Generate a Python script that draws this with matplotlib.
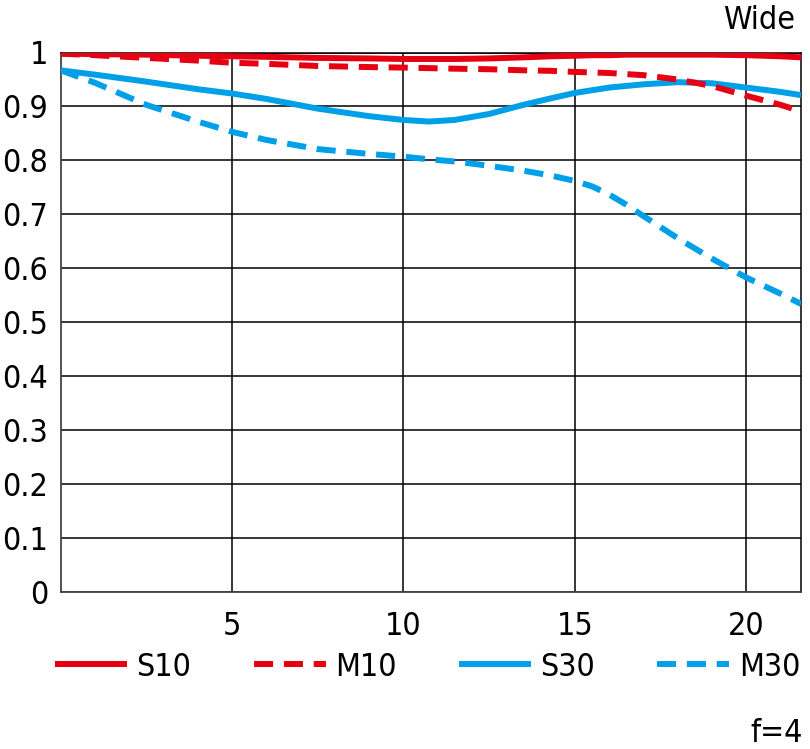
import matplotlib
matplotlib.use("Agg")
import matplotlib.pyplot as plt
from matplotlib.lines import Line2D

plt.rcParams['font.family'] = ['Liberation Sans Narrow', 'DejaVu Sans']
plt.rcParams['font.stretch'] = 'condensed'

image_height = [0, 1, 2.5, 4, 5, 6, 7.5, 9, 10, 10.75, 11.5, 12.5, 13.5, 14.3, 15, 15.5, 16, 16.5, 17, 18, 19, 20, 21, 21.6]
s10 = [0.998, 0.997, 0.996, 0.994, 0.993, 0.992, 0.990, 0.989, 0.988, 0.988, 0.988, 0.989, 0.991, 0.993, 0.994, 0.995, 0.995, 0.996, 0.996, 0.996, 0.996, 0.995, 0.993, 0.991]
m10 = [0.998, 0.995, 0.990, 0.985, 0.981, 0.979, 0.975, 0.973, 0.972, 0.971, 0.970, 0.969, 0.967, 0.966, 0.964, 0.963, 0.962, 0.960, 0.958, 0.950, 0.938, 0.920, 0.903, 0.891]
s30 = [0.967, 0.959, 0.946, 0.932, 0.924, 0.914, 0.896, 0.882, 0.875, 0.872, 0.875, 0.886, 0.903, 0.915, 0.925, 0.930, 0.935, 0.938, 0.941, 0.945, 0.943, 0.935, 0.927, 0.921]
m30 = [0.967, 0.944, 0.903, 0.872, 0.853, 0.838, 0.821, 0.812, 0.807, 0.802, 0.798, 0.790, 0.781, 0.772, 0.762, 0.752, 0.737, 0.718, 0.697, 0.656, 0.618, 0.583, 0.553, 0.534]

series_labels = ['S10', 'M10', 'S30', 'M30']
x_ticks = [5, 10, 15, 20]
y_ticks = [0, 0.1, 0.2, 0.3, 0.4, 0.5, 0.6, 0.7, 0.8, 0.9, 1.0]
y_tick_labels = ['0', '0.1', '0.2', '0.3', '0.4', '0.5', '0.6', '0.7', '0.8', '0.9', '1']

RED = '#E60012'
BLUE = '#00A0E9'
FS = 23

fig = plt.figure(figsize=(8.10, 7.49), dpi=100)
ax = fig.add_axes([60.5/810, 1-592/749, (801-60.5)/810, (592-52.5)/749])

lw = 4.3
dash = (0, (3.2, 1.8))
ax.plot(image_height, s10, color=RED, lw=lw, solid_capstyle='butt', zorder=5)
ax.plot(image_height, m10, color=RED, lw=lw, linestyle=dash, dash_capstyle='butt', zorder=5)
ax.plot(image_height, s30, color=BLUE, lw=lw, solid_capstyle='butt', zorder=4)
ax.plot(image_height, m30, color=BLUE, lw=lw, linestyle=dash, dash_capstyle='butt', zorder=4)

ax.set_xlim(0, 21.6)
ax.set_ylim(0, 1)
ax.set_xticks(x_ticks)
ax.set_xticklabels([str(t) for t in x_ticks])
ax.set_yticks(y_ticks)
ax.set_yticklabels(y_tick_labels)
ax.tick_params(axis='both', length=0, labelsize=FS)
ax.tick_params(axis='x', pad=13.5)
ax.tick_params(axis='y', pad=9)
ax.grid(True, color='black', lw=1.1)
ax.set_axisbelow(True)
for s in ['left', 'bottom']:
    ax.spines[s].set_color('#444444')
    ax.spines[s].set_linewidth(1.3)
ax.spines['right'].set_color('black')
ax.spines['right'].set_linewidth(1.1)
ax.spines['top'].set_color('black')
ax.spines['top'].set_linewidth(1.1)

handles = [
    Line2D([], [], color=RED, lw=lw, solid_capstyle='butt'),
    Line2D([], [], color=RED, lw=lw, linestyle=dash, dash_capstyle='butt'),
    Line2D([], [], color=BLUE, lw=lw, solid_capstyle='butt'),
    Line2D([], [], color=BLUE, lw=lw, linestyle=dash, dash_capstyle='butt'),
]
fig.legend(handles, series_labels, loc='center left', bbox_to_anchor=(55/810, 1-667/749),
           ncol=4, frameon=False, fontsize=FS, handlelength=2.25, handletextpad=0.3,
           columnspacing=1.95, borderpad=0, borderaxespad=0)

fig.text(795/810, 1-29/749, 'Wide', ha='right', va='baseline', fontsize=FS)
fig.text(803/810, 1-742/749, 'f=4', ha='right', va='baseline', fontsize=FS)

fig.savefig('out.png', dpi=100)
